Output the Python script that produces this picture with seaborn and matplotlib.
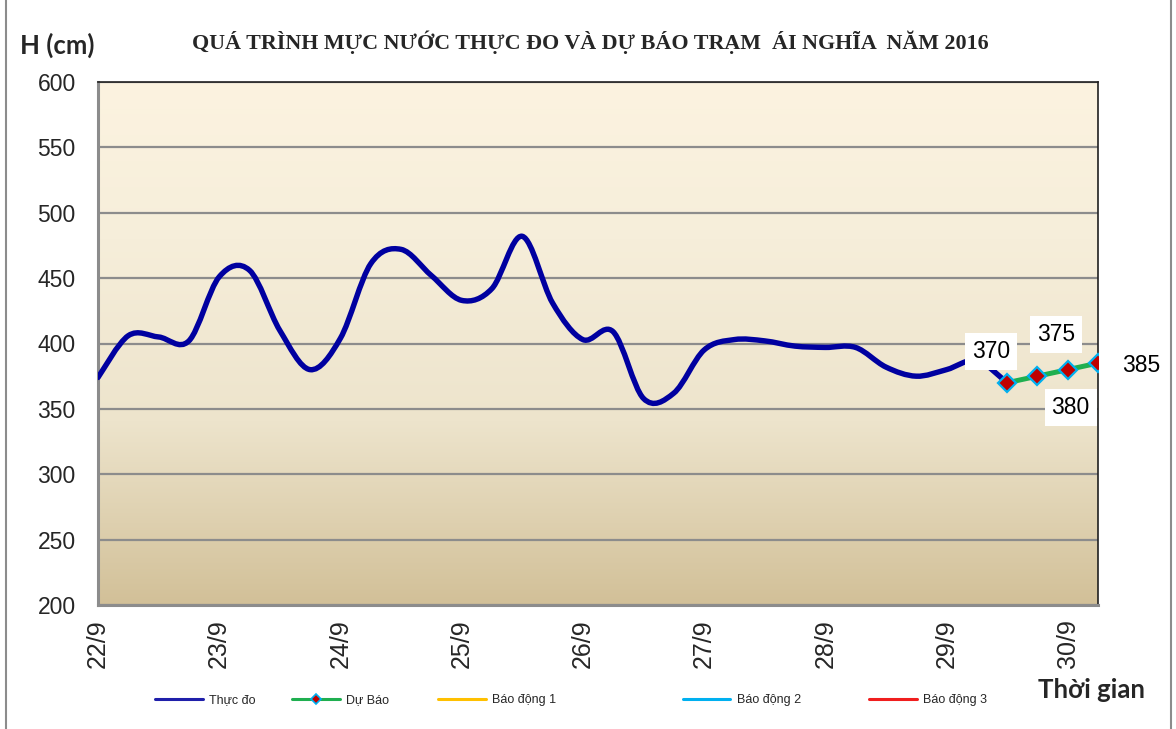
import numpy as np
import pandas as pd
import matplotlib
matplotlib.use("Agg")
import matplotlib.pyplot as plt
import seaborn as sns
from matplotlib.path import Path
from matplotlib.patches import PathPatch
from matplotlib.lines import Line2D
from matplotlib.colors import LinearSegmentedColormap

# ---------------- data ----------------
day_labels = ["22/9", "23/9", "24/9", "25/9", "26/9", "27/9", "28/9", "29/9", "30/9"]
steps_per_day = 4  # 6-hourly observations

observed = [374, 406, 405, 402, 451, 456, 410, 380, 404, 461,
            472, 452, 433, 442, 482, 431, 403, 409, 358, 362,
            395, 403, 402, 398, 397, 397, 382, 375, 380, 387,
            370]
forecast = [370, 375, 380, 385]
forecast_start = 30

y_ticks = [200, 250, 300, 350, 400, 450, 500, 550, 600]

legend_names = ["Thực đo", "Dự Báo", "Báo động 1", "Báo động 2", "Báo động 3"]

title = "QUÁ TRÌNH MỰC NƯỚC THỰC ĐO VÀ DỰ BÁO TRẠM  ÁI NGHĨA  NĂM 2016"

# ---------------- style ----------------
sns.set_theme(style="white")
plt.rcParams["font.family"] = ["Liberation Sans", "DejaVu Sans"]

obs_color = "#0000A0"
fc_color = "#1FAF50"
alarm_colors = ["#FFC000", "#00B0F0", "#F01E1E"]

fig = plt.figure(figsize=(11.76, 7.29), dpi=100)
fig.patch.set_facecolor("white")
W, H = 1176, 729
ax = fig.add_axes([98 / W, 1 - 605 / H, (1098 - 98) / W, (605 - 82) / H])

n_total = len(observed) - 1 + len(forecast)  # number of categories
x_max = n_total - 1

# gradient background
cmap = LinearSegmentedColormap.from_list(
    "bg", [(0.0, "#D2C098"), (0.35, "#EDE4CC"), (0.7, "#F6EEDA"), (1.0, "#FCF3E0")])
grad = np.linspace(0, 1, 256).reshape(-1, 1)
ax.imshow(grad, extent=[0, x_max, y_ticks[0], y_ticks[-1]], origin="lower",
          aspect="auto", cmap=cmap, zorder=-1, interpolation="bicubic")

ax.set_xlim(0, x_max)
ax.set_ylim(y_ticks[0], y_ticks[-1])

# grid
ax.set_axisbelow(True)
ax.yaxis.grid(True, color="#8C8C8C", lw=1.6)
ax.xaxis.grid(False)

# observed: smoothed (Excel-like bezier) through the observed points
obs_x = np.arange(len(observed), dtype=float)
obs_y = np.array(observed, dtype=float)


def smooth_path(xs, ys):
    verts = [(xs[0], ys[0])]
    codes = [Path.MOVETO]
    n = len(xs)
    for i in range(n - 1):
        p0 = np.array([xs[max(i - 1, 0)], ys[max(i - 1, 0)]])
        p1 = np.array([xs[i], ys[i]])
        p2 = np.array([xs[i + 1], ys[i + 1]])
        p3 = np.array([xs[min(i + 2, n - 1)], ys[min(i + 2, n - 1)]])
        c1 = p1 + (p2 - p0) / 6.0
        c2 = p2 - (p3 - p1) / 6.0
        verts += [tuple(c1), tuple(c2), tuple(p2)]
        codes += [Path.CURVE4] * 3
    return Path(verts, codes)


ax.add_patch(PathPatch(smooth_path(obs_x, obs_y), fill=False, edgecolor=obs_color,
                       lw=3.9, capstyle="round", joinstyle="round", zorder=3))

# forecast
fc_df = pd.DataFrame({"x": np.arange(forecast_start, forecast_start + len(forecast)),
                      "y": forecast})
sns.lineplot(data=fc_df, x="x", y="y", ax=ax, color=fc_color, lw=3.6, zorder=4,
             marker="D", markersize=9, markerfacecolor="#C00000",
             markeredgecolor="#00B0F0", markeredgewidth=1.6, legend=False)

# data labels
label_offsets = [(-16, 31), (19, 42), (3, -38), (43, -2)]
for (xx, yy), off in zip(zip(fc_df["x"], fc_df["y"]), label_offsets):
    ax.annotate(f"{yy}", (xx, yy), xytext=off, textcoords="offset pixels",
                ha="center", va="center", fontsize=16.5, color="black", zorder=6,
                annotation_clip=False,
                bbox=dict(boxstyle="square,pad=0.3", fc="white", ec="none"))

# axes ticks
ax.set_yticks(y_ticks)
ax.set_yticklabels([str(v) for v in y_ticks], fontsize=16.5)
ax.set_xticks(range(n_total))
xt = []
for i in range(n_total):
    xt.append(day_labels[i // steps_per_day] if i % steps_per_day == 0 and i // steps_per_day < len(day_labels) else "")
ax.set_xticklabels(xt, rotation=90, fontsize=18, ha="center", va="top")
ax.tick_params(axis="x", direction="in", length=5, width=1.2, color="#8C8C8C", pad=10)
ax.tick_params(axis="y", direction="out", length=6, width=1.5, color="#8C8C8C", pad=10)
ax.set_xlabel("")
ax.set_ylabel("")

for s in ["left", "bottom"]:
    ax.spines[s].set_color("#8C8C8C")
    ax.spines[s].set_linewidth(2.2)
for s in ["top", "right"]:
    ax.spines[s].set_color("#202020")
    ax.spines[s].set_linewidth(1.2)
for s in ax.spines.values():
    s.set_visible(True)

# texts
fig.text(590 / W, 1 - 42 / H, title, ha="center", va="center", fontsize=15.8,
         fontweight="bold", family=["Liberation Serif", "DejaVu Serif"])
fig.text(57 / W, 1 - 45 / H, "H (cm)", ha="center", va="center", fontsize=18.5,
         fontweight="bold", family=["Lato", "Open Sans", "DejaVu Sans"])
fig.text(1092 / W, 1 - 690 / H, "Thời gian", ha="center", va="center", fontsize=18.5,
         fontweight="bold", family=["Lato", "Open Sans", "DejaVu Sans"])

# legend (separate entries positioned like the original)
handles = [
    Line2D([], [], color="#1F1FAA", lw=2.2),
    Line2D([], [], color=fc_color, lw=2.2, marker="D", markersize=5,
           markerfacecolor="#C00000", markeredgecolor="#00B0F0", markeredgewidth=1.2),
    Line2D([], [], color=alarm_colors[0], lw=2.2),
    Line2D([], [], color=alarm_colors[1], lw=2.2),
    Line2D([], [], color=alarm_colors[2], lw=2.2),
]
leg_x = [155, 292, 438, 683, 869]
for h, name, lx in zip(handles, legend_names, leg_x):
    fig.legend(handles=[h], labels=[name], loc="center left",
               bbox_to_anchor=(lx / W, 1 - 700 / H), frameon=False,
               fontsize=9, handlelength=3.8, handletextpad=0.5,
               borderpad=0, borderaxespad=0)

# chart-area border lines (left/right)
fig.add_artist(Line2D([6 / W, 6 / W], [0, 1], color="#8C8C8C", lw=1.5))
fig.add_artist(Line2D([1171 / W, 1171 / W], [0, 1], color="#8C8C8C", lw=1.5))

fig.savefig("out.png", dpi=100, facecolor="white")
